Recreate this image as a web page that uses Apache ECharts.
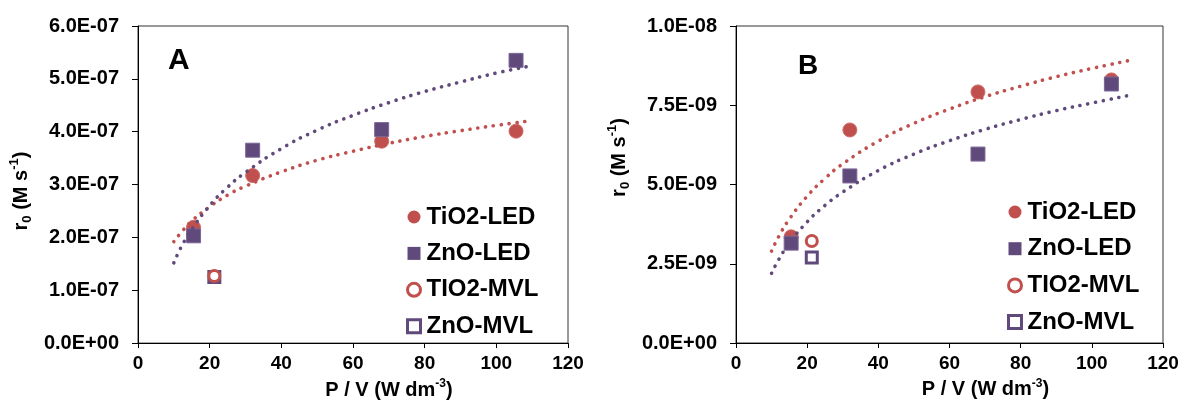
<!DOCTYPE html>
<html>
<head>
<meta charset="utf-8">
<script src="https://cdn.jsdelivr.net/npm/echarts@6/dist/echarts.min.js"></script>
<style>
  html, body { margin: 0; padding: 0; background: #fff; }
  #chart { width: 1184px; height: 405px; }
</style>
</head>
<body>
<div id="chart"></div>
<script>
// x = P / V (W dm-3)
const xLed = [15.5, 32, 68, 105.5]
const xMvl = [21.3]

// panel A, r0 (M s-1)
const tio2LedA = [2.19e-7, 3.17e-7, 3.82e-7, 4.01e-7]
const znoLedA = [2.03e-7, 3.65e-7, 4.04e-7, 5.35e-7]
const tio2MvlA = [1.27e-7]
const znoMvlA = [1.25e-7]

// panel B, r0 (M s-1)
const tio2LedB = [3.35e-9, 6.72e-9, 7.92e-9, 8.30e-9]
const znoLedB = [3.15e-9, 5.27e-9, 5.96e-9, 8.17e-9]
const tio2MvlB = [3.22e-9]
const znoMvlB = [2.70e-9]

// dotted trend lines
const trendX = [10, 12, 15, 20, 25, 30, 40, 50, 60, 70, 80, 90, 100, 110]
const trendTio2A = [1.92e-7, 2.09e-7, 2.31e-7, 2.58e-7, 2.80e-7, 2.97e-7, 3.24e-7, 3.46e-7, 3.63e-7, 3.78e-7, 3.91e-7, 4.02e-7, 4.12e-7, 4.21e-7]
const trendZnoA = [1.52e-7, 1.81e-7, 2.15e-7, 2.60e-7, 2.95e-7, 3.23e-7, 3.68e-7, 4.03e-7, 4.31e-7, 4.55e-7, 4.76e-7, 4.94e-7, 5.11e-7, 5.25e-7]
const trendTio2B = [2.90e-9, 3.36e-9, 3.91e-9, 4.63e-9, 5.19e-9, 5.65e-9, 6.37e-9, 6.93e-9, 7.38e-9, 7.77e-9, 8.10e-9, 8.40e-9, 8.66e-9, 8.90e-9]
const trendZnoB = [2.20e-9, 2.63e-9, 3.15e-9, 3.82e-9, 4.34e-9, 4.76e-9, 5.44e-9, 5.96e-9, 6.38e-9, 6.74e-9, 7.05e-9, 7.33e-9, 7.57e-9, 7.80e-9]

const xTicks = ['0', '20', '40', '60', '80', '100', '120']
const yLabelsA = ['0.0E+00', '1.0E-07', '2.0E-07', '3.0E-07', '4.0E-07', '5.0E-07', '6.0E-07']
const yLabelsB = ['0.0E+00', '2.5E-09', '5.0E-09', '7.5E-09', '1.0E-08']

const RED = '#c0504d'
const PURPLE = '#604a7b'
const FONT = 'Arial, "Liberation Sans", sans-serif'

const pairs = (xs, ys) => ys.map((y, i) => [xs[i], y])

const chart = echarts.init(document.getElementById('chart'), null, { renderer: 'canvas' })

function xAxisOf (gridIndex) {
  return {
    gridIndex: gridIndex,
    type: 'value',
    min: 0,
    max: 120,
    interval: 20,
    name: '{t|P / V (W dm}{sup|-3}{t|)}',
    nameLocation: 'middle',
    nameGap: 28,
    nameTextStyle: {
      padding: [0, 0, 0, 72],
      rich: {
        t: { fontFamily: FONT, fontWeight: 'bold', fontSize: 20, color: '#000', lineHeight: 24 },
        sup: { fontFamily: FONT, fontWeight: 'bold', fontSize: 12, color: '#000', lineHeight: 12, verticalAlign: 'top' }
      }
    },
    axisLine: { show: true, lineStyle: { color: '#000', width: 1 } },
    axisTick: { show: true, inside: false, length: 5, lineStyle: { color: '#000' } },
    axisLabel: {
      margin: 11,
      fontFamily: FONT,
      fontWeight: 'bold',
      fontSize: 19,
      color: '#000',
      formatter: (v, i) => xTicks[i]
    },
    splitLine: { show: false }
  }
}

function yAxisOf (gridIndex, max, interval, labels, shift) {
  return {
    gridIndex: gridIndex,
    type: 'value',
    min: 0,
    max: max,
    interval: interval,
    name: '{t|r}{sub|0}{t| (M s}{sup|-1}{t|)}',
    nameLocation: 'middle',
    nameGap: 104,
    nameTextStyle: {
      padding: shift,
      rich: {
        t: { fontFamily: FONT, fontWeight: 'bold', fontSize: 20, color: '#000', lineHeight: 26 },
        sub: { fontFamily: FONT, fontWeight: 'bold', fontSize: 13, color: '#000', lineHeight: 13, verticalAlign: 'bottom' },
        sup: { fontFamily: FONT, fontWeight: 'bold', fontSize: 13, color: '#000', lineHeight: 13, verticalAlign: 'top' }
      }
    },
    axisLine: { show: true, lineStyle: { color: '#000', width: 1 } },
    axisTick: { show: true, inside: false, length: 6, lineStyle: { color: '#000' } },
    axisLabel: {
      margin: 19,
      fontFamily: FONT,
      fontWeight: 'bold',
      fontSize: 20,
      color: '#000',
      formatter: (v, i) => labels[i]
    },
    splitLine: { show: false }
  }
}

function scatter (name, idx, xs, ys, symbol, color, hollow) {
  return {
    name: name,
    type: 'scatter',
    xAxisIndex: idx,
    yAxisIndex: idx,
    symbol: symbol,
    symbolSize: hollow ? 11 : 14,
    itemStyle: hollow
      ? { color: '#fff', borderColor: color, borderWidth: 3, opacity: 1 }
      : { color: color, borderColor: color === RED ? '#cf6b68' : '#7d6799', borderWidth: 1, opacity: 1 },
    data: pairs(xs, ys),
    z: 3
  }
}

function trend (name, idx, ys, color) {
  return {
    name: name,
    type: 'line',
    xAxisIndex: idx,
    yAxisIndex: idx,
    smooth: true,
    showSymbol: false,
    silent: true,
    lineStyle: { color: color, width: 3.6, type: [0.1, 7.8], cap: 'round' },
    data: pairs(trendX, ys),
    z: 4
  }
}

function legendOf (left, top, gap) {
  const txt = { fontFamily: FONT, fontWeight: 'bold', fontSize: 24, color: '#000', lineHeight: 24, padding: [0, 0, 0, 1] }
  return {
    orient: 'vertical',
    left: left,
    top: top,
    itemWidth: 13,
    itemHeight: 13,
    itemGap: gap,
    padding: 0,
    selectedMode: false,
    textStyle: txt,
    data: [
      { name: 'TiO2-LED', icon: 'circle', itemStyle: { color: RED, borderWidth: 0 } },
      { name: 'ZnO-LED', icon: 'rect', itemStyle: { color: PURPLE, borderWidth: 0 } },
      { name: 'TIO2-MVL', icon: 'circle', itemStyle: { color: '#fff', borderColor: RED, borderWidth: 3 } },
      { name: 'ZnO-MVL', icon: 'rect', itemStyle: { color: '#fff', borderColor: PURPLE, borderWidth: 3 } }
    ]
  }
}

const option = {
  backgroundColor: '#fff',
  animation: false,
  grid: [
    { left: 138, right: 616, top: 26, bottom: 60, show: true, borderColor: '#333', borderWidth: 1 },
    { left: 736, right: 21, top: 26, bottom: 62, show: true, borderColor: '#333', borderWidth: 1 }
  ],
  title: [
    { text: 'A', left: 168, top: 46, padding: 0, textStyle: { fontFamily: FONT, fontWeight: 'bold', fontSize: 30, color: '#000' } },
    { text: 'B', left: 798, top: 52, padding: 0, textStyle: { fontFamily: FONT, fontWeight: 'bold', fontSize: 28, color: '#000' } }
  ],
  legend: [legendOf(406, 205, 12.4), legendOf(1007, 200, 12.7)],
  xAxis: [xAxisOf(0), xAxisOf(1)],
  yAxis: [
    yAxisOf(0, 6e-7, 1e-7, yLabelsA, [0, 13, 0, 0]),
    yAxisOf(1, 1e-8, 2.5e-9, yLabelsB, [0, 0, 0, 54])
  ],
  series: [
    scatter('TiO2-LED', 0, xLed, tio2LedA, 'circle', RED, false),
    scatter('ZnO-LED', 0, xLed, znoLedA, 'rect', PURPLE, false),
    scatter('ZnO-MVL', 0, xMvl, znoMvlA, 'rect', PURPLE, true),
    scatter('TIO2-MVL', 0, xMvl, tio2MvlA, 'circle', RED, true),
    trend('TiO2-LED trend', 0, trendTio2A, RED),
    trend('ZnO-LED trend', 0, trendZnoA, PURPLE),

    scatter('TiO2-LED', 1, xLed, tio2LedB, 'circle', RED, false),
    scatter('ZnO-LED', 1, xLed, znoLedB, 'rect', PURPLE, false),
    scatter('TIO2-MVL', 1, xMvl, tio2MvlB, 'circle', RED, true),
    scatter('ZnO-MVL', 1, xMvl, znoMvlB, 'rect', PURPLE, true),
    trend('TiO2-LED trend', 1, trendTio2B, RED),
    trend('ZnO-LED trend', 1, trendZnoB, PURPLE)
  ]
}

chart.setOption(option)
</script>
</body>
</html>
